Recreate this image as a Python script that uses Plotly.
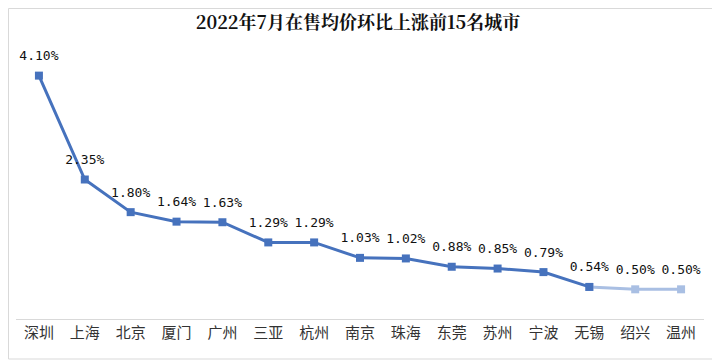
import plotly.graph_objects as go

cities = ["深圳", "上海", "北京", "厦门", "广州", "三亚", "杭州", "南京", "珠海", "东莞", "苏州", "宁波", "无锡", "绍兴", "温州"]
values = [4.10, 2.35, 1.80, 1.64, 1.63, 1.29, 1.29, 1.03, 1.02, 0.88, 0.85, 0.79, 0.54, 0.50, 0.50]
labels = [f"{v:.2f}%" for v in values]

dark_n = 13  # 深圳..无锡 drawn dark, 无锡..温州 light

# page body has an 8px default margin, so the figure is drawn at (8, 8)
OFF = 8
W, H = 720 - OFF, 360 - OFF
ML, MR, MT, MB = 16 - OFF, 16, 40 - OFF, 41

fig = go.Figure()
fig.add_trace(go.Scatter(
    x=cities[dark_n - 1:], y=values[dark_n - 1:],
    mode="lines+markers",
    line=dict(color="#a9bfe3", width=3),
    marker=dict(symbol="square", size=8, color="#a9bfe3"),
    hoverinfo="skip", showlegend=False,
))
fig.add_trace(go.Scatter(
    x=cities[:dark_n], y=values[:dark_n],
    mode="lines+markers",
    line=dict(color="#4672bd", width=3),
    marker=dict(symbol="square", size=8, color="#4672bd"),
    hoverinfo="skip", showlegend=False,
))
fig.add_trace(go.Scatter(
    x=cities, y=values, mode="markers+text", text=labels,
    textposition="top center",
    marker=dict(size=18, opacity=0),
    textfont=dict(family="DejaVu Sans Mono, monospace", size=13, color="#111111"),
    cliponaxis=False,
    hoverinfo="skip", showlegend=False,
))

pw = W - ML - MR
ph = H - MT - MB
fig.add_shape(type="rect", xref="paper", yref="paper",
              x0=-(ML - 0.5) / pw, x1=1 + (MR - 1) / pw,
              y0=-(MB - 1) / ph, y1=1 + (MT - 0.5) / ph,
              line=dict(color="#d9d9d9", width=1), layer="below")

fig.update_layout(
    width=W, height=H,
    margin=dict(l=ML, r=MR, t=MT, b=MB, autoexpand=False),
    paper_bgcolor="white", plot_bgcolor="white",
    title=dict(text="<b>2022年7月在售均价环比上涨前15名城市</b>",
               x=(358 - OFF) / W, xanchor="center", y=1 - (23 - OFF) / H, yanchor="middle",
               font=dict(family="Noto Serif CJK SC, Noto Sans CJK SC, serif", size=18, color="#111111")),
    xaxis=dict(type="category", categoryorder="array", categoryarray=cities,
               range=[-0.5, len(cities) - 0.5], automargin=False,
               showgrid=False, zeroline=False,
               showline=True, linecolor="#d9d9d9", linewidth=1,
               ticks="", tickfont=dict(family="Noto Sans CJK SC", size=15, color="#333333")),
    yaxis=dict(range=[0, 4.70], automargin=False, showticklabels=False, showgrid=False, zeroline=False,
               showline=False, ticks=""),
)

fig.write_html("out.html")
